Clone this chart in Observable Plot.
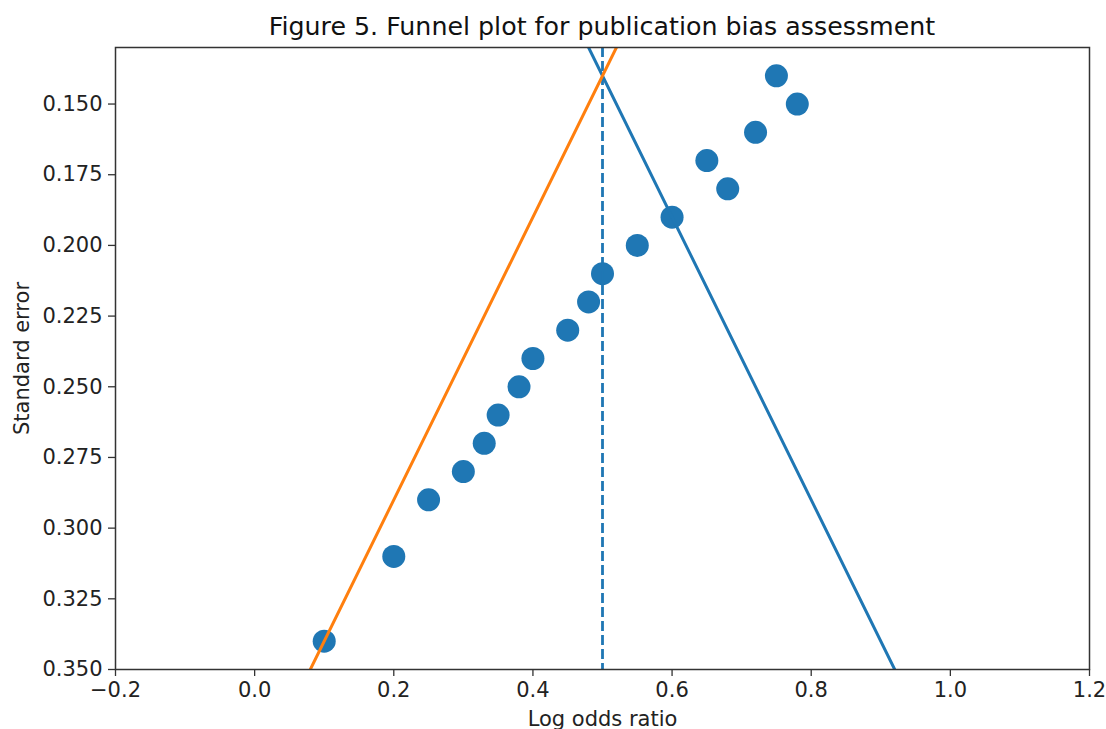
<!DOCTYPE html>
<html>
<head>
<meta charset="utf-8">
<script src="https://cdn.jsdelivr.net/npm/d3@7"></script>
<script src="https://cdn.jsdelivr.net/npm/@observablehq/plot@0.6"></script>
<style>
  html, body { margin: 0; padding: 0; background: #fff; }
  body { width: 1106px; height: 729px; overflow: hidden; font-family: "DejaVu Sans", sans-serif; }
  #title { position: relative; height: 40px; width: 1106px; }
  #title span { position: absolute; left: 602px; transform: translateX(-50%); top: 14px; font-size: 25.3px; color: #111; white-space: nowrap; line-height: 1; }
</style>
</head>
<body>
<div id="title"><span>Figure 5. Funnel plot for publication bias assessment</span></div>
<div id="chart"></div>
<script>
// Study estimates (log odds ratio) and their standard errors
const logOR = [0.10, 0.20, 0.25, 0.30, 0.33, 0.35, 0.38, 0.40, 0.45, 0.48, 0.50, 0.55, 0.60, 0.65, 0.68, 0.72, 0.75, 0.78];
const stdErr = [0.34, 0.31, 0.29, 0.28, 0.27, 0.26, 0.25, 0.24, 0.23, 0.22, 0.21, 0.20, 0.19, 0.17, 0.18, 0.16, 0.14, 0.15];

// Pooled estimate (dashed vertical line)
const pooled = [0.5];

// Funnel boundary lines (endpoints)
const funnelSE = [0.13, 0.35];
const leftBoundX = [0.52, 0.08];
const rightBoundX = [0.48, 0.92];

// Tick labels
const xTicks = [-0.2, 0.0, 0.2, 0.4, 0.6, 0.8, 1.0, 1.2];
const yTicks = [0.150, 0.175, 0.200, 0.225, 0.250, 0.275, 0.300, 0.325, 0.350];

const studies = logOR.map((x, i) => ({x, se: stdErr[i]}));
const leftLine = funnelSE.map((se, i) => ({x: leftBoundX[i], se}));
const rightLine = funnelSE.map((se, i) => ({x: rightBoundX[i], se}));

const blue = "#1f77b4", orange = "#ff7f0e", axisColor = "#333";

const chart = Plot.plot({
  width: 1106,
  height: 689,
  marginTop: 7,
  marginLeft: 115,
  marginRight: 17,
  marginBottom: 60,
  style: {fontFamily: "DejaVu Sans, sans-serif", fontSize: "21px", color: "#222", background: "#fff"},
  x: {domain: [-0.2, 1.2]},
  y: {domain: [0.13, 0.35], reverse: true},
  marks: [
    Plot.dot(studies, {x: "x", y: "se", r: 11.5, fill: blue, stroke: "none"}),
    Plot.ruleX(pooled, {stroke: blue, strokeWidth: 2.8, strokeDasharray: "10,4"}),
    Plot.line(rightLine, {x: "x", y: "se", stroke: blue, strokeWidth: 3, clip: true}),
    Plot.line(leftLine, {x: "x", y: "se", stroke: orange, strokeWidth: 3, clip: true}),
    Plot.frame({stroke: axisColor, strokeWidth: 1.5}),
    Plot.axisX({ticks: xTicks, tickFormat: d3.format(".1f"), tickSize: 7, tickPadding: 6, stroke: axisColor, strokeWidth: 1.3, fontSize: 21,
      label: "Log odds ratio", labelAnchor: "center", labelArrow: "none", labelOffset: 56}),
    Plot.axisY({ticks: yTicks, tickFormat: d3.format(".3f"), tickSize: 7, tickPadding: 6, stroke: axisColor, strokeWidth: 1.3, fontSize: 21,
      label: "Standard error", labelAnchor: "center", labelArrow: "none", labelOffset: 101})
  ]
});
document.getElementById("chart").appendChild(chart);
</script>
</body>
</html>
